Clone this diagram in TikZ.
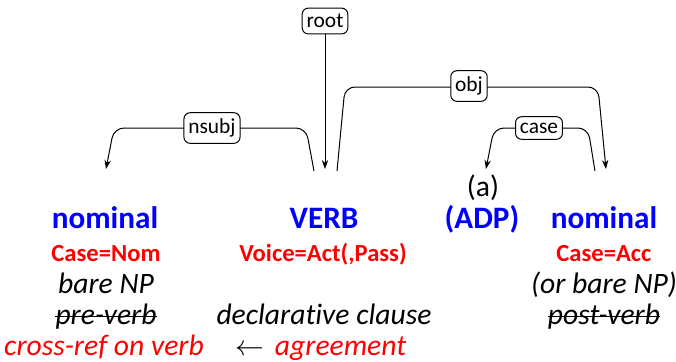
\documentclass[tikz,border=0pt]{standalone}
\usepackage{fontspec}
\setmainfont{Carlito}[Ligatures=NoCommon]
\usetikzlibrary{arrows.meta}
\definecolor{hblue}{RGB}{0,0,255}
\definecolor{hred}{RGB}{255,0,0}
\begin{document}
\begin{tikzpicture}[x=0.5pt,y=-0.5pt,
  deplabel/.style={draw,rounded corners=3pt,fill=white,inner xsep=2.2pt,inner ysep=3pt,font=\fontsize{10.7}{12}\selectfont,line width=0.5pt},
  arc/.style={line width=0.5pt,rounded corners=5pt},
  tip/.style={-{Stealth[length=4.5pt,width=3.2pt]}},
  word/.style={anchor=base,font=\fontsize{15.6}{18}\bfseries\selectfont,text=hblue,inner sep=0pt},
  feat/.style={anchor=base,font=\fontsize{12.3}{14}\bfseries\selectfont,text=hred,inner sep=0pt},
  note/.style={anchor=base,font=\fontsize{14.8}{17}\itshape\selectfont,inner sep=0pt},
  strike/.style={line width=0.5pt}]
\useasboundingbox (0,0) rectangle (676,361);
% words
\node[anchor=base,font=\fontsize{14.8}{17}\selectfont,inner sep=0pt] (a) at (483,196) {(a)};
\node[word] (nom1) at (105,228) {nominal};
\node[word] (verb) at (324,228) {VERB};
\node[word] (adp) at (482,228) {(ADP)};
\node[word] (nom2) at (604,228) {nominal};
\node[feat] (f1) at (106,261) {Case=Nom};
\node[feat] (f2) at (323,261) {Voice=Act(,Pass)};
\node[feat] (f3) at (604,261) {Case=Acc};
\node[note] (n1) at (106,293) {bare NP};
\node[note] (n3) at (604,293) {(or bare NP)};
\node[note] (p1) at (106,324) {pre-verb};
\node[note] (p2) at (324,324) {declarative clause};
\node[note] (p3) at (604,324) {post-verb};
\node[note,text=hred] (c1) at (104,355) {cross-ref on verb};
\node[note] (c2) at (321,355) {$\leftarrow$\hspace{0.35em}\textcolor{hred}{agreement}};
\draw[strike] ([yshift=3.6pt]p1.base west) -- ([yshift=3.6pt]p1.base east);
\draw[strike] ([yshift=3.6pt]p3.base west) -- ([yshift=3.6pt]p3.base east);
% arc endpoints
\coordinate (nsT) at (314,171);
\coordinate (nsA) at (306,128);
\coordinate (nsB) at (114,128);
\coordinate (nsH) at (106,169);
\coordinate (obT) at (337,171);
\coordinate (obA) at (345,87);
\coordinate (obB) at (598,87);
\coordinate (obH) at (606,169);
\coordinate (caT) at (595,171);
\coordinate (caA) at (588,128);
\coordinate (caB) at (494,128);
\coordinate (caH) at (486,169);
\coordinate (rtH) at (325,169);
% arcs
\draw[arc,tip] (nsT) -- (nsA) -- (nsB) -- (nsH);
\draw[arc,tip] (obT) -- (obA) -- (obB) -- (obH);
\draw[arc,tip] (caT) -- (caA) -- (caB) -- (caH);
\node[deplabel] (root) at (325,21) {root};
\draw[line width=0.5pt,tip] (root.south) -- (rtH);
\node[deplabel] (lnsubj) at (212,128) {nsubj};
\node[deplabel] (lobj) at (469,86) {obj};
\node[deplabel] (lcase) at (539,128) {case};
\end{tikzpicture}
\end{document}
